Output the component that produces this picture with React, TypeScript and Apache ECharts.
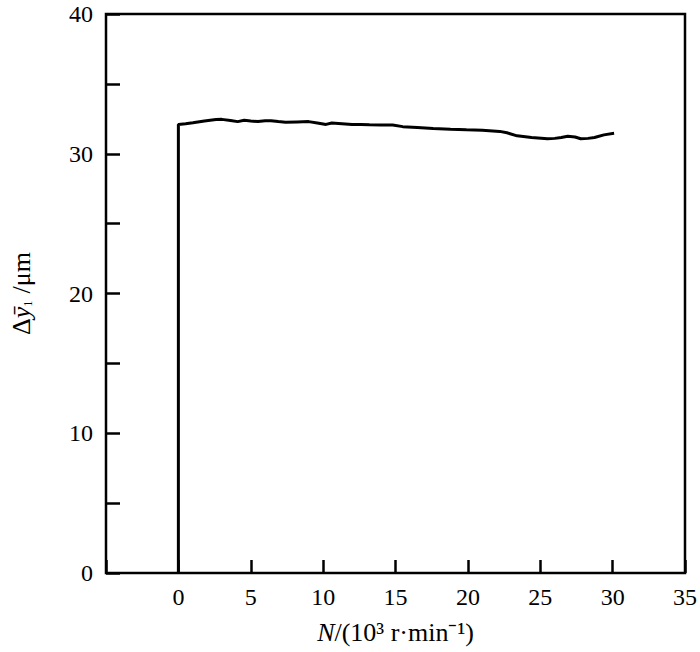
import React, { useEffect, useRef } from "react";
import * as echarts from "echarts";

const nValues = [0, 0, 0.5, 1.0, 1.8, 2.6, 3.0, 3.6, 4.1, 4.55, 5.0, 5.5, 6.0, 6.4, 6.9, 7.4, 8.2, 9.0, 9.6, 10.2, 10.6, 11.3, 12.0, 12.6, 13.2, 14.0, 14.8, 15.5, 16.5, 17.6, 18.8, 19.9, 21.0, 22.2, 22.7, 23.4, 24.4, 25.5, 26.0, 26.45, 26.9, 27.4, 27.8, 28.3, 28.75, 29.4, 30.1];
const dyValues = [0, 32.1, 32.15, 32.22, 32.35, 32.45, 32.46, 32.38, 32.3, 32.4, 32.35, 32.3, 32.36, 32.36, 32.3, 32.25, 32.28, 32.3, 32.2, 32.1, 32.2, 32.15, 32.1, 32.1, 32.07, 32.05, 32.05, 31.94, 31.88, 31.8, 31.75, 31.71, 31.68, 31.6, 31.5, 31.28, 31.16, 31.07, 31.1, 31.16, 31.25, 31.2, 31.07, 31.1, 31.16, 31.35, 31.46];
const xTickLabels = ["0", "5", "10", "15", "20", "25", "30", "35"];
const yTickLabels = ["0", "10", "20", "30", "40"];

const FONT = "Liberation Serif";

export default function App() {
  const ref = useRef<HTMLDivElement>(null);
  useEffect(() => {
    if (!ref.current) return;
    const chart = echarts.init(ref.current, null, { renderer: "svg" });
    const data = nValues.map((n, i) => [n, dyValues[i]]);
    chart.setOption({
      animation: false,
      backgroundColor: "#fff",
      textStyle: { fontFamily: FONT },
      grid: {
        left: 104,
        right: 14,
        top: 14,
        bottom: 79,
        show: true,
        borderColor: "#000",
        borderWidth: 2.5,
        backgroundColor: "transparent",
      },
      xAxis: {
        type: "value",
        min: -5,
        max: 35,
        interval: 5,
        axisLine: { show: false, onZero: false },
        splitLine: { show: false },
        axisTick: { show: true, inside: true, length: 13, lineStyle: { color: "#000", width: 2.5 } },
        axisLabel: {
          color: "#000",
          fontFamily: FONT,
          fontSize: 24,
          margin: 12,
          formatter: (v: number) => (xTickLabels.includes(String(v)) ? String(v) : ""),
        },
        name: "{i|N}/(10³ r·min⁻¹)",
        nameLocation: "middle",
        nameGap: 46,
        nameTextStyle: {
          color: "#000",
          fontFamily: FONT,
          fontSize: 26,
          rich: { i: { fontStyle: "italic", fontFamily: FONT, fontSize: 26, color: "#000" } },
        },
      },
      yAxis: {
        type: "value",
        min: 0,
        max: 40,
        interval: 5,
        axisLine: { show: false, onZero: false },
        splitLine: { show: false },
        axisTick: { show: true, inside: true, length: 14, lineStyle: { color: "#000", width: 2.5 } },
        axisLabel: {
          color: "#000",
          fontFamily: FONT,
          fontSize: 24,
          margin: 13,
          formatter: (v: number) => (yTickLabels.includes(String(v)) ? String(v) : ""),
        },
        name: "Δ{i|ȳ}{s|₁} /μm",
        nameLocation: "middle",
        nameRotate: 90,
        nameGap: 72,
        nameTextStyle: {
          color: "#000",
          fontFamily: FONT,
          fontSize: 26,
          rich: {
            i: { fontStyle: "italic", fontFamily: FONT, fontSize: 26, color: "#000" },
            s: { fontFamily: FONT, fontSize: 19, color: "#000" },
          },
        },
      },
      series: [
        {
          type: "line",
          data,
          showSymbol: false,
          symbol: "none",
          lineStyle: { color: "#000", width: 3 },
          z: 3,
        },
      ],
    });
    return () => chart.dispose();
  }, []);
  return (
    <div
      ref={ref}
      style={{ position: "fixed", left: 0, top: 0, width: 700, height: 652, overflow: "hidden" }}
    />
  );
}
